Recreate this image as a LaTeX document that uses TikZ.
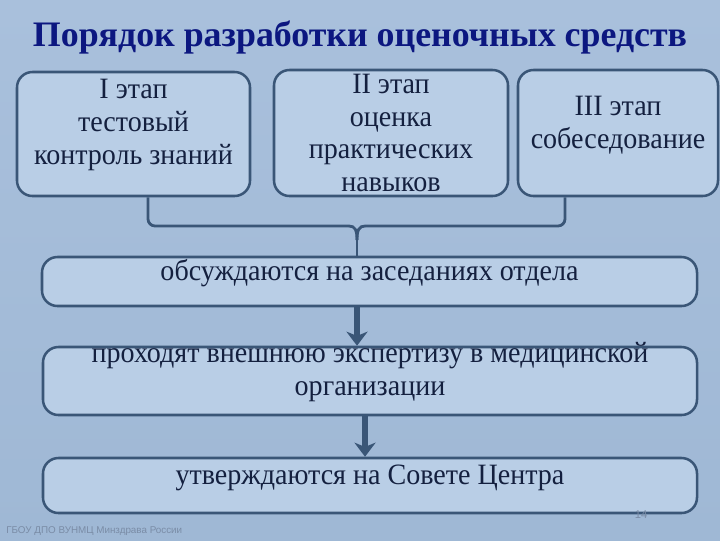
\documentclass[tikz,border=0pt]{standalone}
\usepackage{fontspec}
\setmainfont{Liberation Serif}
\newfontfamily\narrowserif{Liberation Serif}[FakeStretch=0.95]
\newfontfamily\footfont{Liberation Sans}
\usetikzlibrary{arrows.meta}
\definecolor{slidebg}{HTML}{A9C0DC}
\definecolor{slidebgdark}{HTML}{9FB8D5}
\definecolor{boxfill}{HTML}{B9CEE6}
\definecolor{boxline}{HTML}{3A5677}
\definecolor{titleblue}{HTML}{0C1780}
\definecolor{textblue}{HTML}{14203F}
\definecolor{footgray}{HTML}{7A8CA6}

\begin{document}
\begin{tikzpicture}[x=0.025cm,y=-0.025cm]
    \tikzstyle{frame}=[draw=boxline, line width=1.8pt, fill=boxfill, rounded corners=11pt, inner sep=0pt]
    \tikzstyle{boxtext}=[text=textblue, font=\narrowserif\fontsize{21}{23.4}\selectfont, align=center, inner sep=0pt]
    \tikzstyle{wire}=[draw=boxline, line width=2pt]
    \tikzstyle{flow}=[draw=boxline, line width=3.6pt, -{Stealth[length=10pt,width=15pt,inset=3pt]}]

    % background
    \useasboundingbox (0,0) rectangle (720,540);
    \shade[top color=slidebg, bottom color=slidebgdark] (0,0) rectangle (720,540);

    % title
    \node[text=titleblue, font=\fontsize{25.5}{27}\selectfont\bfseries] (title) at (360,37) {Порядок разработки оценочных средств};

    % stage boxes
    \node[frame, minimum width=233*0.025cm, minimum height=124*0.025cm] (b1) at (133.5,134) {};
    \node[frame, minimum width=234*0.025cm, minimum height=126*0.025cm] (b2) at (391,133) {};
    \node[frame, minimum width=200*0.025cm, minimum height=126*0.025cm] (b3) at (618,133) {};
    \node[boxtext] (t1) at (133.5,125) {I этап\\тестовый\\контроль знаний};
    \node[boxtext] (t2) at (391,133) {II этап\\оценка\\практических\\навыков};
    \node[boxtext] (t3) at (618,125) {III этап\\собеседование};

    % step boxes
    \node[frame, minimum width=655*0.025cm, minimum height=49*0.025cm] (b4) at (369.5,281.5) {};
    \node[frame, minimum width=654*0.025cm, minimum height=68*0.025cm] (b5) at (370,381) {};
    \node[frame, minimum width=654*0.025cm, minimum height=55*0.025cm] (b6) at (370,485.5) {};
    \node[boxtext] (t4) at (369.5,273) {обсуждаются на заседаниях отдела};
    \node[boxtext] (t5) at (370,372) {проходят внешнюю экспертизу в медицинской\\организации};
    \node[boxtext] (t6) at (370,478) {утверждаются на Совете Центра};

    % brace
    \coordinate (bl) at (148,226);
    \coordinate (br) at (565,226);
    \coordinate (tip) at (357,240);
    \draw[wire, rounded corners=5pt] (b1.south -| bl) -- (bl) -- (349,226);
    \draw[wire, rounded corners=5pt] (b3.south -| br) -- (br) -- (365,226);
    \draw[wire] (349,226) .. controls (355,226) and (357,230) .. (tip);
    \draw[wire] (365,226) .. controls (359,226) and (357,230) .. (tip);
    \draw[wire] (tip) -- (b4.north -| tip);

    % arrows
    \coordinate (a1) at (357,0);
    \coordinate (a2) at (365,0);
    \draw[flow] (b4.south -| a1) -- (b5.north -| a1);
    \draw[flow] (b5.south -| a2) -- (b6.north -| a2);

    % footer
    \node[text=footgray, font=\footfont\fontsize{7}{8}\selectfont, anchor=west, inner sep=0pt] (foot) at (6,531) {ГБОУ ДПО ВУНМЦ Минздрава России};
    \node[text=footgray, font=\footfont\fontsize{8}{9}\selectfont, inner sep=0pt] (page) at (641,515) {14};
\end{tikzpicture}
\end{document}
